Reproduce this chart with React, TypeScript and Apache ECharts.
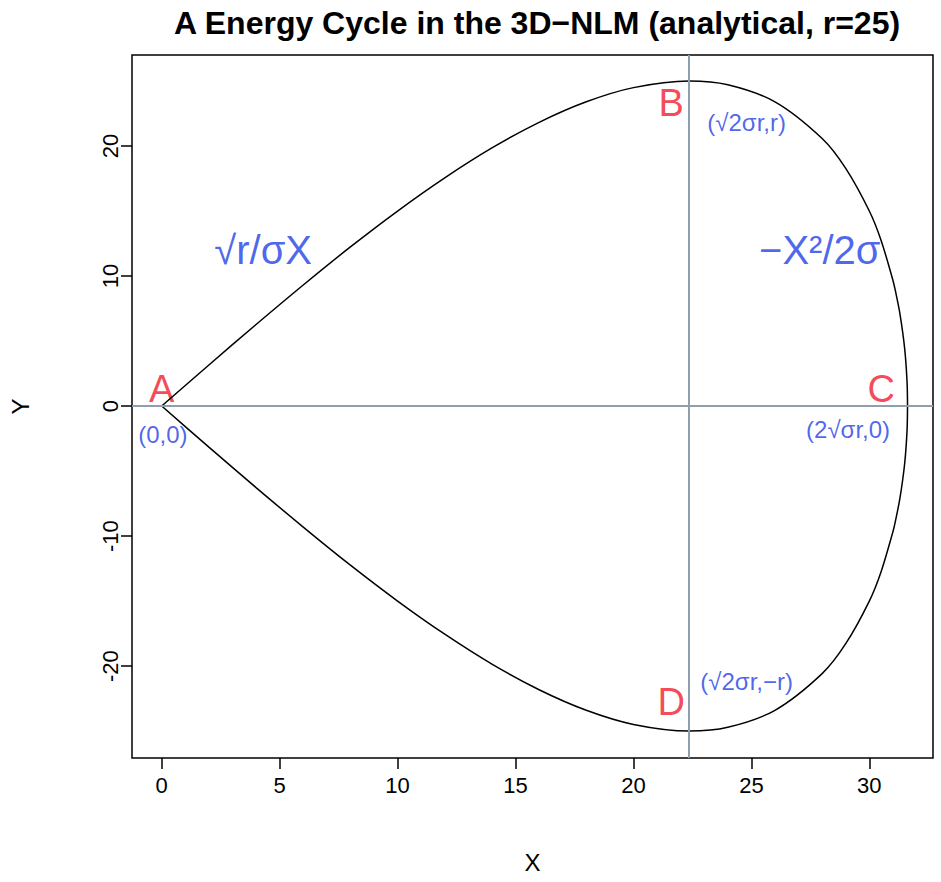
import React, { useEffect, useRef } from "react";
import * as echarts from "echarts";

const upperX = [0, 2, 4, 6, 8, 10, 12, 14, 16, 18, 20, 22.36, 24, 26, 28, 29, 30, 30.5, 31, 31.1, 31.3, 31.5, 31.6, 31.62];
const upperY = [0, 3.16, 6.27, 9.31, 12.24, 15, 17.55, 19.85, 21.82, 23.4, 24.49, 25, 24.71, 23.4, 20.58, 18.28, 15, 12.74, 9.68, 8.91, 7.07, 4.4, 1.87, 0];
const xTicks = [0, 5, 10, 15, 20, 25, 30];
const yTicks = [-20, -10, 0, 10, 20];
const vLine = 22.36;
const RED = "#f21a2e";
const BLUE = "#1f3fe6";
const labels: [number, number, string, string, number][] = [
  [0.0, 1.3, "A", RED, 38],
  [0.05, -2.2, "(0,0)", BLUE, 24],
  [21.6, 23.3, "B", RED, 38],
  [24.8, 21.8, "(√2σr,r)", BLUE, 24],
  [4.3, 12, "√r/σX", BLUE, 40],
  [27.9, 12, "−X²/2σ", BLUE, 40],
  [30.5, 1.3, "C", RED, 38],
  [29.1, -1.8, "(2√σr,0)", BLUE, 24],
  [21.6, -22.8, "D", RED, 38],
  [24.8, -21.2, "(√2σr,−r)", BLUE, 24],
];

export default function App() {
  const ref = useRef<HTMLDivElement>(null);
  useEffect(() => {
    const chart = echarts.init(ref.current!, null, { renderer: "svg" });
    const upper = upperX.map((x, i) => [x, upperY[i]]);
    const lower = upperX.map((x, i) => [x, -upperY[i]]);
    const font = "Liberation Sans, Arial, sans-serif";
    chart.setOption({
      animation: false,
      title: {
        text: "A Energy Cycle in the 3D−NLM (analytical, r=25)",
        left: 532, top: 2, textAlign: "center",
        textStyle: { fontFamily: font, fontSize: 32, fontWeight: "bold", color: "#000" },
      },
      grid: { left: 127, top: 55, width: 806, height: 703, show: true, borderColor: "#000", borderWidth: 1.5, backgroundColor: "transparent" },
      xAxis: {
        type: "value", min: -1.26, max: 32.7,
        name: "X", nameLocation: "middle", nameGap: 92,
        nameTextStyle: { fontFamily: font, fontSize: 24, color: "#000" },
        axisLine: { show: false, onZero: false }, splitLine: { show: false },
        axisTick: { show: true, inside: false, length: 11, customValues: xTicks, lineStyle: { color: "#000", width: 1.5 } },
        axisLabel: { customValues: xTicks, margin: 16, fontFamily: font, fontSize: 22, color: "#000" },
      },
      yAxis: {
        type: "value", min: -27.07, max: 27.0,
        name: "Y", nameLocation: "middle", nameGap: 100, nameRotate: 90,
        nameTextStyle: { fontFamily: font, fontSize: 24, color: "#000" },
        axisLine: { show: false, onZero: false }, splitLine: { show: false },
        axisTick: { show: true, inside: false, length: 11, customValues: yTicks, lineStyle: { color: "#000", width: 1.5 } },
        axisLabel: { customValues: yTicks, rotate: 90, margin: 22, fontFamily: font, fontSize: 22, color: "#000", verticalAlign: "middle", align: "center" },
      },
      series: [
        {
          type: "line", data: upper, smooth: 0.3, showSymbol: false,
          lineStyle: { color: "#000", width: 1.5 },
          markLine: {
            silent: true, symbol: "none", label: { show: false },
            lineStyle: { color: "#8f9fab", type: "solid", width: 2 },
            data: [{ xAxis: vLine }, { yAxis: 0 }],
          },
        },
        { type: "line", data: lower, smooth: 0.3, showSymbol: false, lineStyle: { color: "#000", width: 1.5 } },
        {
          type: "scatter", symbolSize: 0,
          data: labels.map(([x, y, t, c, s]) => ({
            value: [x, y],
            label: { show: true, position: "inside", formatter: t, color: c, fontSize: s, fontFamily: font },
          })),
        },
      ],
    });
    return () => chart.dispose();
  }, []);
  return <div ref={ref} style={{ position: "absolute", left: 0, top: 0, width: 941, height: 882 }} />;
}
